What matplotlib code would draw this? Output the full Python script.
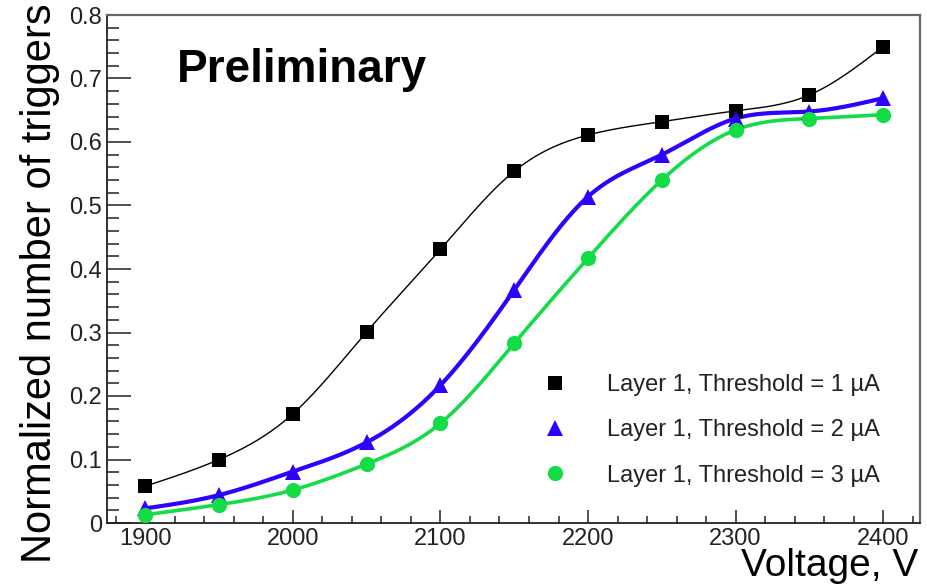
import numpy as np
import matplotlib
matplotlib.use("Agg")
import matplotlib.pyplot as plt
from matplotlib.lines import Line2D
from matplotlib.ticker import MultipleLocator, FuncFormatter

plt.rcParams['font.family'] = ['Liberation Sans', 'DejaVu Sans']

# ---- data ----
voltage = [1900, 1950, 2000, 2050, 2100, 2150, 2200, 2250, 2300, 2350, 2400]
thr1 = [0.058, 0.100, 0.172, 0.301, 0.431, 0.554, 0.611, 0.632, 0.649, 0.674, 0.750]
thr2 = [0.023, 0.044, 0.081, 0.127, 0.217, 0.367, 0.514, 0.580, 0.637, 0.648, 0.669]
thr3 = [0.013, 0.029, 0.052, 0.093, 0.157, 0.283, 0.417, 0.540, 0.619, 0.637, 0.643]
labels = ["Layer 1, Threshold = 1 \u00b5A",
          "Layer 1, Threshold = 2 \u00b5A",
          "Layer 1, Threshold = 3 \u00b5A"]
xlabel = "Voltage, V"
ylabel = "Normalized number of triggers"
banner = "Preliminary"


def natural_spline(x, y, n=400):
    x = np.asarray(x, float)
    y = np.asarray(y, float)
    k = len(x)
    h = np.diff(x)
    A = np.zeros((k, k))
    b = np.zeros(k)
    A[0, 0] = 1
    A[-1, -1] = 1
    for i in range(1, k - 1):
        A[i, i - 1] = h[i - 1]
        A[i, i] = 2 * (h[i - 1] + h[i])
        A[i, i + 1] = h[i]
        b[i] = 6 * ((y[i + 1] - y[i]) / h[i] - (y[i] - y[i - 1]) / h[i - 1])
    M = np.linalg.solve(A, b)
    xs = np.linspace(x[0], x[-1], n)
    idx = np.clip(np.searchsorted(x, xs) - 1, 0, k - 2)
    x0, x1 = x[idx], x[idx + 1]
    hh = x1 - x0
    t0 = x1 - xs
    t1 = xs - x0
    ys = (M[idx] * t0**3 / (6 * hh) + M[idx + 1] * t1**3 / (6 * hh)
          + (y[idx] - M[idx] * hh**2 / 6) * t0 / hh
          + (y[idx + 1] - M[idx + 1] * hh**2 / 6) * t1 / hh)
    return xs, ys


W, H = 928, 585
fig = plt.figure(figsize=(W / 100, H / 100), dpi=100)
ax = fig.add_axes([107 / W, (H - 523) / H, (920 - 107) / W, (523 - 15) / H])

blue = '#3000ff'
green = '#14dc46'
series = [
    (thr1, 'black', 's', 1.0, 10),
    (thr2, blue, '^', 3.0, 11),
    (thr3, green, 'o', 2.6, 11),
]
handles = []
for vals, col, mk, lw, ms in series:
    xs, ys = natural_spline(voltage, vals)
    ax.plot(xs, ys, color=col, lw=lw, zorder=2)
    ax.plot(voltage, vals, linestyle='none', marker=mk, color=col,
            markersize=ms, markeredgewidth=0, zorder=3)
    handles.append(Line2D([], [], linestyle='none', marker=mk, color=col,
                          markersize=ms, markeredgewidth=0))

ax.set_xlim(1874, 2425)
ax.set_ylim(0, 0.8)

ax.xaxis.set_major_locator(MultipleLocator(100))
ax.xaxis.set_minor_locator(MultipleLocator(20))
ax.yaxis.set_major_locator(MultipleLocator(0.1))
ax.yaxis.set_minor_locator(MultipleLocator(0.02))
ax.yaxis.set_major_formatter(FuncFormatter(lambda v, p: '0' if abs(v) < 1e-9 else f'{v:.1f}'))

ax.tick_params(axis='x', which='major', direction='in', length=9.5, width=1.1,
               labelsize=17, pad=3.5, colors='#222222')
ax.tick_params(axis='x', which='minor', direction='in', length=5, width=1.1,
               colors='#222222')
ax.tick_params(axis='y', which='major', direction='in', length=17.5, width=1.1,
               labelsize=17, pad=3.5, colors='#222222')
ax.tick_params(axis='y', which='minor', direction='in', length=8.5, width=1.1,
               colors='#222222')
ax.tick_params(top=False, right=False, which='both')

for s in ['left', 'bottom']:
    ax.spines[s].set_color('#222222')
    ax.spines[s].set_linewidth(1.3)
for s in ['top', 'right']:
    ax.spines[s].set_color('#666666')
    ax.spines[s].set_linewidth(1.6)

ax.text(0.086, 0.868, banner, transform=ax.transAxes, fontsize=33,
        fontweight='bold', ha='left', va='baseline', color='black')

leg = ax.legend(handles, labels, loc='upper left',
                bbox_to_anchor=((531.5 - 107) / 813, (523 - 374) / 508),
                frameon=False, fontsize=17, handlelength=2.0,
                handletextpad=1.2, labelspacing=0.99, borderpad=0,
                borderaxespad=0)
for t in leg.get_texts():
    t.set_color('#222222')

fig.text(40 / W, 1 - 3 / H, ylabel, rotation=90, ha='center', va='top',
         fontsize=30, color='black')
fig.text(918 / W, 0.5 / H, xlabel, ha='right', va='bottom', fontsize=28,
         color='black')

fig.savefig('out.png', dpi=100)
